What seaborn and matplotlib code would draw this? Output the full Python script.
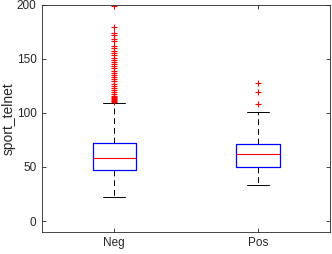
import matplotlib
matplotlib.use("Agg")
import matplotlib.pyplot as plt
import seaborn as sns

# values
groups = ["Neg", "Pos"]
q1 = [47, 50]
medians = [58, 62]
q3 = [72, 71]
whisker_low = [22, 33]
whisker_high = [109, 101]
neg_outliers = [199, 179, 174, 172, 168, 166, 162, 160, 157, 155, 153, 151, 149,
                147, 145, 143, 141, 139, 137, 135, 133, 131, 129, 127, 125, 123,
                121, 119, 117, 116, 115, 114, 113, 112, 111, 110]
pos_outliers = [128, 119, 108]

sns.set_style("ticks")
plt.rcParams['font.family'] = ['Liberation Sans', 'DejaVu Sans']

stats = []
for i, g in enumerate(groups):
    stats.append({
        "label": g,
        "q1": q1[i], "med": medians[i], "q3": q3[i],
        "whislo": whisker_low[i], "whishi": whisker_high[i],
        "fliers": [neg_outliers, pos_outliers][i],
    })

fig, ax = plt.subplots(figsize=(3.32, 2.54), dpi=100)
fig.subplots_adjust(left=0.127, right=0.994, top=0.982, bottom=0.087)

ax.bxp(stats, widths=0.3, showfliers=True,
       boxprops=dict(color="#0000ff", linewidth=0.9),
       medianprops=dict(color="#ff0000", linewidth=0.8),
       whiskerprops=dict(color="black", linestyle=(0, (6, 4)), linewidth=0.7),
       capprops=dict(color="black", linewidth=0.7),
       capwidths=0.15,
       flierprops=dict(marker="+", markeredgecolor="#ff0000", markersize=5,
                       linestyle="none", markeredgewidth=0.8))

ax.set_xlim(0.5, 2.5)
ax.set_ylim(-10, 200)
ax.set_yticks([0, 50, 100, 150, 200])
ax.set_ylabel("sport_telnet", fontsize=10, labelpad=1)
ax.tick_params(direction="in", length=3, width=0.6, colors="#262626",
               labelsize=8.5, top=True, right=True, pad=4)
for s in ax.spines.values():
    s.set_color("#262626")
    s.set_linewidth(0.6)

fig.savefig("out.png", dpi=100)
